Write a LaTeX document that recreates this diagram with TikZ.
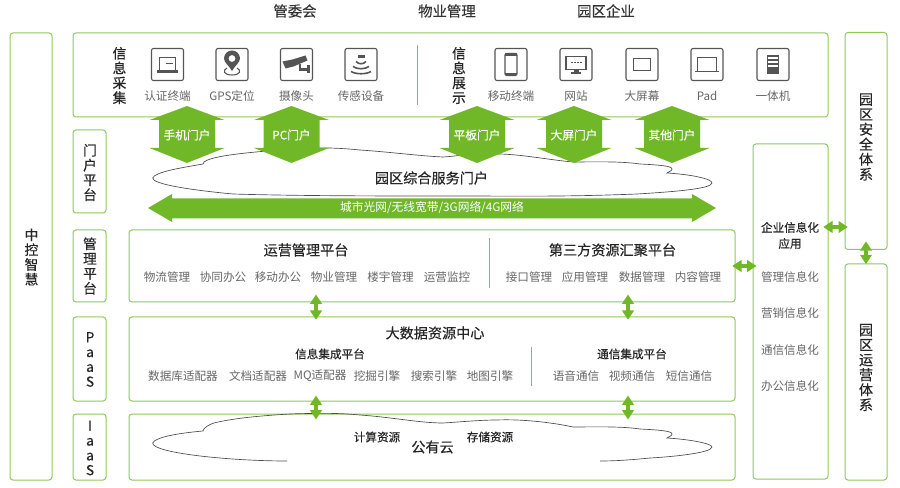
\documentclass[tikz,border=0pt]{standalone}
\usepackage{fontspec}
\setmainfont{Noto Sans CJK SC}
\newfontfamily\medfont[FakeBold=0.35]{Noto Sans CJK SC}
\usetikzlibrary{arrows.meta,calc}
\definecolor{boxgreen}{HTML}{8FC95A}
\definecolor{fillgreen}{HTML}{70B828}
\definecolor{icongray}{HTML}{555555}
\definecolor{labelgray}{HTML}{666666}
\tikzset{
  panel/.style={draw=boxgreen,line width=.75pt,rounded corners=2.2pt,inner sep=0pt},
  icon/.style={draw=icongray,line width=.8pt,rounded corners=1.5pt,minimum size=24pt,inner sep=0pt},
  glyph/.style={fill=icongray,draw=none},
  glyphline/.style={draw=icongray,line width=.8pt,fill=none},
  title/.style={font=\medfont\fontsize{10.6}{12}\selectfont,text=black!85,inner sep=0pt},
  head/.style={font=\medfont\fontsize{10.8}{12}\selectfont,text=black!80,inner sep=0pt},
  sub/.style={font=\medfont\fontsize{8.7}{11}\selectfont,text=black!85,inner sep=0pt},
  lab/.style={font=\fontsize{8.7}{11}\selectfont,text=labelgray,inner sep=0pt},
  vert/.style={font=\medfont\fontsize{10.3}{11.1}\selectfont,text=black!85,align=center,inner sep=0pt},
  vertb/.style={font=\medfont\fontsize{10.6}{11.25}\selectfont,text=black!85,align=center,inner sep=0pt},
  wlab/.style={font=\fontsize{8.8}{11}\selectfont,text=white,inner sep=0pt},
  link/.style={draw=fillgreen,line width=3.6pt,{Triangle[width=8.6pt,length=7pt]}-{Triangle[width=8.6pt,length=7pt]}},
  cloudline/.style={draw=black!70,line width=.5pt,fill=white},
  cloudopen/.style={draw=black!70,line width=.5pt},
  hexa/.style={fill=fillgreen,draw=none},
  divider/.style={draw=boxgreen!70!black!70,line width=.6pt},
}
\newcommand{\hexarrow}[3]{%
  \fill[hexa] (#1,106) -- (#1+37.5,120) -- (#1+28,120) -- (#1+28,148) -- (#1+37.5,148) -- (#1,163) -- (#1-37.5,148) -- (#1-28,148) -- (#1-28,120) -- (#1-37.5,120) -- cycle;
  \node[wlab,font=\medfont\fontsize{8.8}{11}\selectfont] (#2) at (#1,135) {#3};%
}
\begin{document}
\begin{tikzpicture}[x=.75pt,y=-.75pt]
\useasboundingbox (0,0) rectangle (900,488);
% panels
\node[panel,minimum width=31.5pt,minimum height=335.25pt] (zk) at (31,256.5) {};
\node[panel,minimum width=566.25pt,minimum height=63pt] (top) at (450.5,75) {};
\node[panel,minimum width=24.75pt,minimum height=62.25pt] (lmh) at (89.5,171.5) {};
\node[panel,minimum width=24.75pt,minimum height=54pt] (lgl) at (89.5,266) {};
\node[panel,minimum width=24.75pt,minimum height=63pt] (lpa) at (89.5,359) {};
\node[panel,minimum width=24.75pt,minimum height=49.5pt] (lia) at (89.5,447) {};
\node[panel,minimum width=454.5pt,minimum height=54pt] (ops) at (432,266) {};
\node[panel,minimum width=454.5pt,minimum height=63pt] (dat) at (432,359) {};
\node[panel,minimum width=454.5pt,minimum height=49.5pt] (ias) at (432,447) {};
\node[panel,minimum width=56.25pt,minimum height=251.25pt] (ent) at (790.5,311.5) {};
\node[panel,minimum width=31.5pt,minimum height=162.75pt] (saf) at (866,141) {};
\node[panel,minimum width=31.5pt,minimum height=162pt] (yun) at (866,372) {};
% dividers
\draw[divider] (417,45) -- (417,105);
\draw[divider] (489,238) -- (489,288);
\draw[divider] (531.5,347) -- (531.5,386);
% heads
\node[head] (ha) at (295,11) {管委会};
\node[head] (hb) at (447,11) {物业管理};
\node[head] (hc) at (606,11) {园区企业};
% vertical labels
\node[vert] (v1) at (119.5,75.5) {信\\息\\采\\集};
\node[vert] (v2) at (459,75.5) {信\\息\\展\\示};
\node[vert] (v3) at (90,172.5) {门\\户\\平\\台};
\node[vert] (v4) at (90,266) {管\\理\\平\\台};
\node[vert] (v5) at (90,359.5) {P\\a\\a\\S};
\node[vert] (v6) at (90,448) {I\\a\\a\\S};
\node[vert] (v7) at (31.5,257) {中\\控\\智\\慧};
\node[vertb] (v8) at (866,137) {园\\区\\安\\全\\体\\系};
\node[vertb] (v9) at (866,367.5) {园\\区\\运\\营\\体\\系};
% icons
\foreach \n/\x/\t in {ia/167.5/认证终端,ib/232/GPS定位,ic/296.5/摄像头,id/361/传感设备,ie/511/移动终端,if/576/网站,ig/642/大屏幕,ih/707/Pad,ii/773/一体机}{
  \node[icon] (\n) at (\x,64.5) {};
  \node[lab] (\n t) at (\x,96) {\t};
}
% laptop
\draw[glyphline] ($(ia)+(-8,6)$) -- ($(ia)+(-8,-7)$) -- ($(ia)+(8,-7)$) -- ($(ia)+(8,6)$);
\fill[glyph] ($(ia)+(-10.5,6)$) rectangle ($(ia)+(10.5,9)$);
\draw[glyphline] ($(ia)+(-2,-1)$) -- ($(ia)+(5,-1)$);
% GPS pin
\fill[glyph,even odd rule] ($(ib)+(0,6.5)$) .. controls ($(ib)+(-3,1)$) and ($(ib)+(-8,-2)$) .. ($(ib)+(-8,-6)$) arc[start angle=180,end angle=360,radius=8] .. controls ($(ib)+(8,-2)$) and ($(ib)+(3,1)$) .. ($(ib)+(0,6.5)$) -- cycle ($(ib)+(3.5,-6)$) arc[start angle=0,end angle=360,radius=3.5];
\draw[glyphline] ($(ib)+(-5,3.5)$) .. controls ($(ib)+(-10,6)$) and ($(ib)+(-8,10.5)$) .. ($(ib)+(0,10.5)$) .. controls ($(ib)+(8,10.5)$) and ($(ib)+(10,6)$) .. ($(ib)+(5,3.5)$);
% camera
\fill[glyph] ($(ic)+(-14,-3)$) -- ($(ic)+(-4,-5)$) -- ($(ic)+(9,-9)$) -- ($(ic)+(11,-4)$) -- ($(ic)+(-3,2)$) -- ($(ic)+(-11,4)$) -- cycle;
\fill[glyph] ($(ic)+(2,0)$) rectangle ($(ic)+(4,5)$);
\fill[glyph] ($(ic)+(2,4)$) rectangle ($(ic)+(11,6.5)$);
\fill[glyph] ($(ic)+(10,1)$) rectangle ($(ic)+(13,9)$);
% sensor
\fill[glyph] ($(id)+(-3.5,-6)$) -- ($(id)+(3.5,-6)$) -- ($(id)+(3.5,-9)$) -- ($(id)+(-3.5,-9)$) -- cycle;
\foreach \r/\w in {-3/5,2/8,7/10}{
  \draw[glyphline,line width=1.2pt] ($(id)+(-\w,\r)$) .. controls ($(id)+(-\w/2,\r+3)$) and ($(id)+(\w/2,\r+3)$) .. ($(id)+(\w,\r)$);
}
% phone
\draw[glyphline,rounded corners=1.5pt,line width=1pt] ($(ie)+(-6,-11)$) rectangle ($(ie)+(6,11)$);
\fill[glyph] ($(ie)+(-6,-11)$) rectangle ($(ie)+(6,-8.5)$);
\fill[glyph] ($(ie)+(-6,8.5)$) rectangle ($(ie)+(6,11)$);
% website
\draw[glyphline] ($(if)+(-10,-8)$) rectangle ($(if)+(10,5)$);
\fill[glyph] ($(if)+(-2.5,5)$) rectangle ($(if)+(2.5,8)$);
\fill[glyph] ($(if)+(-5,8)$) rectangle ($(if)+(5,10)$);
\draw[glyphline,dash pattern=on 1.5pt off .8pt] ($(if)+(-5.5,-2)$) -- ($(if)+(5.5,-2)$);
% big screen
\draw[glyphline,line width=1.1pt] ($(ig)+(-8.5,-6)$) rectangle ($(ig)+(8.5,6)$);
% pad
\draw[glyphline] ($(ih)+(-9.5,-7)$) rectangle ($(ih)+(9.5,7)$);
\draw[glyphline] ($(ih)+(-12,7)$) -- ($(ih)+(12,7)$);
% all-in-one
\fill[glyph] ($(ii)+(-6,-9)$) rectangle ($(ii)+(6,10)$);
\foreach \r in {-7,-3,1}{\fill[white] ($(ii)+(-5,\r)$) rectangle ($(ii)+(5,\r+2)$);}
% cloud 1
\draw[cloudline] (152.7,178) .. controls (155,172) and (180,168) .. (203,164) .. controls (203,161) and (210,159) .. (214,158) .. controls (230,154) and (255,152) .. (290,149) .. controls (320,147) and (340,148) .. (360,150) .. controls (390,152) and (420,156) .. (443,157) .. controls (460,156) and (480,152) .. (497,154) .. controls (520,154) and (550,160) .. (573,162) .. controls (590,162) and (620,161) .. (640,164) .. controls (660,165) and (672,166) .. (672,169) .. controls (672,171) and (668,172) .. (667,173) .. controls (685,174) and (712,178) .. (712,183) .. controls (712,189) and (670,192) .. (637,194) .. controls (560,197) and (520,196) .. (450,196) .. controls (380,196) and (300,196) .. (233,194) .. controls (190,190) and (152,184) .. (152.7,178) -- cycle;
% hex arrows
\hexarrow{187}{pa}{手机门户}
\hexarrow{291.5}{pb}{PC门户}
\hexarrow{477}{pc}{平板门户}
\hexarrow{574}{pd}{大屏门户}
\hexarrow{672}{pe}{其他门户}
\node[title] (portal) at (431.5,178) {园区综合服务门户};
% network bar
\fill[fillgreen] (148,208) -- (172,194) -- (172,198.5) -- (692,198.5) -- (692,194) -- (716,208) -- (692,222) -- (692,218.5) -- (172,218.5) -- (172,222) -- cycle;
\node[wlab] (net) at (432,208) {城市光网/无线宽带/3G网络/4G网络};
% ops
\node[title] (t1) at (306,250) {运营管理平台};
\node[title] (t2) at (612.5,250) {第三方资源汇聚平台};
\foreach \n/\x/\t in {a/167/物流管理,b/223/协同办公,c/278/移动办公,d/334/物业管理,e/390.5/楼宇管理,f/447/运营监控,g/529/接口管理,h/585/应用管理,i/642/数据管理,j/698/内容管理}{
  \node[lab] (op\n) at (\x,277) {\t};
}
% data
\node[title] (t3) at (435,333) {大数据资源中心};
\node[sub] (t4) at (330,354) {信息集成平台};
\node[sub] (t5) at (632,354) {通信集成平台};
\foreach \n/\x/\t in {a/183/数据库适配器,b/258/文档适配器,c/320/MQ适配器,d/377/挖掘引擎,e/434/搜索引擎,f/490/地图引擎,g/576/语音通信,h/632/视频通信,i/689/短信通信}{
  \node[lab] (da\n) at (\x,376) {\t};
}
% cloud 2
\draw[cloudopen] (287,461) .. controls (230,461) and (152,453) .. (152.7,443) .. controls (155,437) and (180,433) .. (203,431) .. controls (203,428) and (210,424) .. (214,423) .. controls (230,419) and (255,416) .. (290,414) .. controls (320,413) and (340,413) .. (360,415) .. controls (390,417) and (420,423) .. (443,423) .. controls (460,422) and (480,420) .. (497,420) .. controls (520,419) and (550,422) .. (573,427) .. controls (590,427) and (620,426) .. (640,429) .. controls (660,430) and (672,431) .. (672,434) .. controls (672,436) and (668,437) .. (667,438) .. controls (685,439) and (712,443) .. (712,447) .. controls (712,453) and (670,457) .. (650,458) .. controls (630,460) and (615,461) .. (600,461);
\node[sub] (t6) at (377,437) {计算资源};
\node[sub] (t7) at (490,437) {存储资源};
\node[title] (t8) at (432.5,447) {公有云};
% enterprise
\node[sub,align=center] (e0) at (790,235.5) {企业信息化\\[1pt]应用};
\foreach \n/\y/\t in {a/277/管理信息化,b/313/营销信息化,c/350/通信信息化,d/386/办公信息化}{
  \node[lab] (e\n) at (790,\y) {\t};
}
% connectors
\coordinate (xa) at (316,0);
\coordinate (xb) at (628,0);
\coordinate (ya) at (0,266);
\coordinate (yb) at (0,227);
\draw[link,shorten <=-6pt,shorten >=-2.5pt] (ops.south -| xa) -- (dat.north -| xa);
\draw[link,shorten <=-6pt,shorten >=-2.5pt] (ops.south -| xb) -- (dat.north -| xb);
\draw[link,shorten <=-4.5pt,shorten >=-4.5pt] (dat.south -| xa) -- (ias.north -| xa);
\draw[link,shorten <=-4.5pt,shorten >=-4.5pt] (dat.south -| xb) -- (ias.north -| xb);
\draw[link,shorten <=-2.5pt,shorten >=-3pt] (ops.east |- ya) -- (ent.west |- ya);
\draw[link,shorten <=-4pt,shorten >=-2.5pt] (ent.east |- yb) -- (saf.west |- yb);
\draw[link,shorten <=-6.5pt,shorten >=-.5pt] (saf.south) -- (yun.north);
\end{tikzpicture}
\end{document}
